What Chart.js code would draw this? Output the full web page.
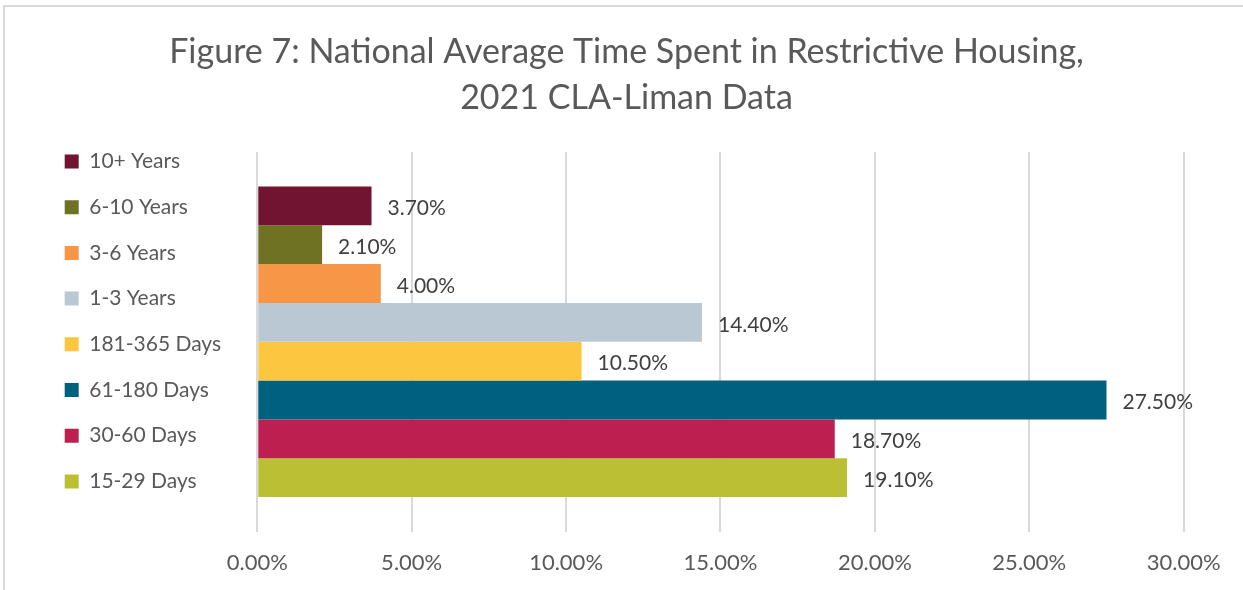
<!DOCTYPE html>
<html>
<head>
<meta charset="utf-8">
<script src="https://cdn.jsdelivr.net/npm/chart.js@4.4.1/dist/chart.umd.min.js"></script>
<style>
  html, body { margin: 0; padding: 0; background: #ffffff; }
  #wrap { position: relative; width: 1243px; height: 590px; }
</style>
</head>
<body>
<div id="wrap"><canvas id="c" width="1243" height="590"></canvas></div>
<script>
const titleLines = ['Figure 7: National Average Time Spent in Restrictive Housing,', '2021 CLA-Liman Data'];
const categories = ['2021'];
const seriesNames = ['10+ Years', '6-10 Years', '3-6 Years', '1-3 Years', '181-365 Days', '61-180 Days', '30-60 Days', '15-29 Days'];
const seriesValues = [3.7, 2.1, 4.0, 14.4, 10.5, 27.5, 18.7, 19.1];
const seriesColors = ['#701432', '#6f7222', '#f79646', '#bac8d3', '#fdc641', '#00617f', '#bd1f51', '#bbbf33'];
const tickValues = [0, 5, 10, 15, 20, 25, 30];

const FONT = "Lato, 'Liberation Sans', sans-serif";

const datasets = seriesNames.map((name, i) => ({
  label: name,
  data: [seriesValues[i]],
  backgroundColor: seriesColors[i],
  borderWidth: 0,
  categoryPercentage: 0.8184,
  barPercentage: 1.0
}));

const valueLabels = {
  id: 'valueLabels',
  afterDatasetsDraw(chart) {
    const ctx = chart.ctx;
    ctx.save();
    ctx.font = "21px " + FONT;
    ctx.fillStyle = '#404040';
    ctx.textAlign = 'left';
    ctx.textBaseline = 'middle';
    chart.data.datasets.forEach((ds, i) => {
      const meta = chart.getDatasetMeta(i);
      meta.data.forEach((el, j) => {
        const v = ds.data[j];
        ctx.fillText(v.toFixed(2) + '%', el.x + 16, el.y + 2.5);
      });
    });
    ctx.restore();
  }
};

const frame = {
  id: 'frame',
  beforeDraw(chart) {
    const ctx = chart.ctx;
    ctx.save();
    ctx.fillStyle = '#ffffff';
    ctx.fillRect(0, 0, chart.width, chart.height);
    ctx.strokeStyle = '#d9d9d9';
    ctx.lineWidth = 2;
    ctx.beginPath();
    ctx.moveTo(4, chart.height);
    ctx.lineTo(4, 6);
    ctx.lineTo(chart.width, 6);
    ctx.stroke();
    ctx.restore();
  }
};

new Chart(document.getElementById('c'), {
  type: 'bar',
  data: { labels: categories, datasets },
  plugins: [frame, valueLabels],
  options: {
    indexAxis: 'y',
    responsive: false,
    animation: false,
    layout: { padding: { left: 40, right: 30, top: 0, bottom: 14.3 } },
    scales: {
      x: {
        min: 0,
        max: 30,
        afterBuildTicks(scale) { scale.ticks = tickValues.map(v => ({ value: v })); },
        afterFit(scale) { scale.paddingRight = 59.3; },
        grid: { color: '#d9d9d9', lineWidth: 2, drawTicks: true, tickLength: 17.8, tickColor: 'rgba(0,0,0,0)' },
        border: { display: false },
        ticks: {
          padding: 0,
          color: '#595959',
          font: { family: FONT, size: 22 },
          callback: v => Number(v).toFixed(2) + '%'
        }
      },
      y: {
        display: true,
        grid: { display: false },
        border: { display: false },
        ticks: { display: false },
        afterFit(scale) { scale.width = 26.2; }
      }
    },
    plugins: {
      title: {
        display: true,
        text: titleLines,
        color: '#595959',
        font: { family: FONT, size: 34, weight: '400', lineHeight: 46 / 34 },
        padding: { top: 29, bottom: 31 }
      },
      legend: {
        display: true,
        position: 'left',
        align: 'start',
        title: { display: true, text: ' ', padding: { top: 116.3, bottom: 0 }, font: { size: 10, lineHeight: 1 } },
        labels: {
          boxWidth: 14,
          boxHeight: 14,
          padding: 24.7,
          color: '#595959',
          font: { family: FONT, size: 21 }
        }
      },
      tooltip: { enabled: false }
    }
  }
});
</script>
</body>
</html>
